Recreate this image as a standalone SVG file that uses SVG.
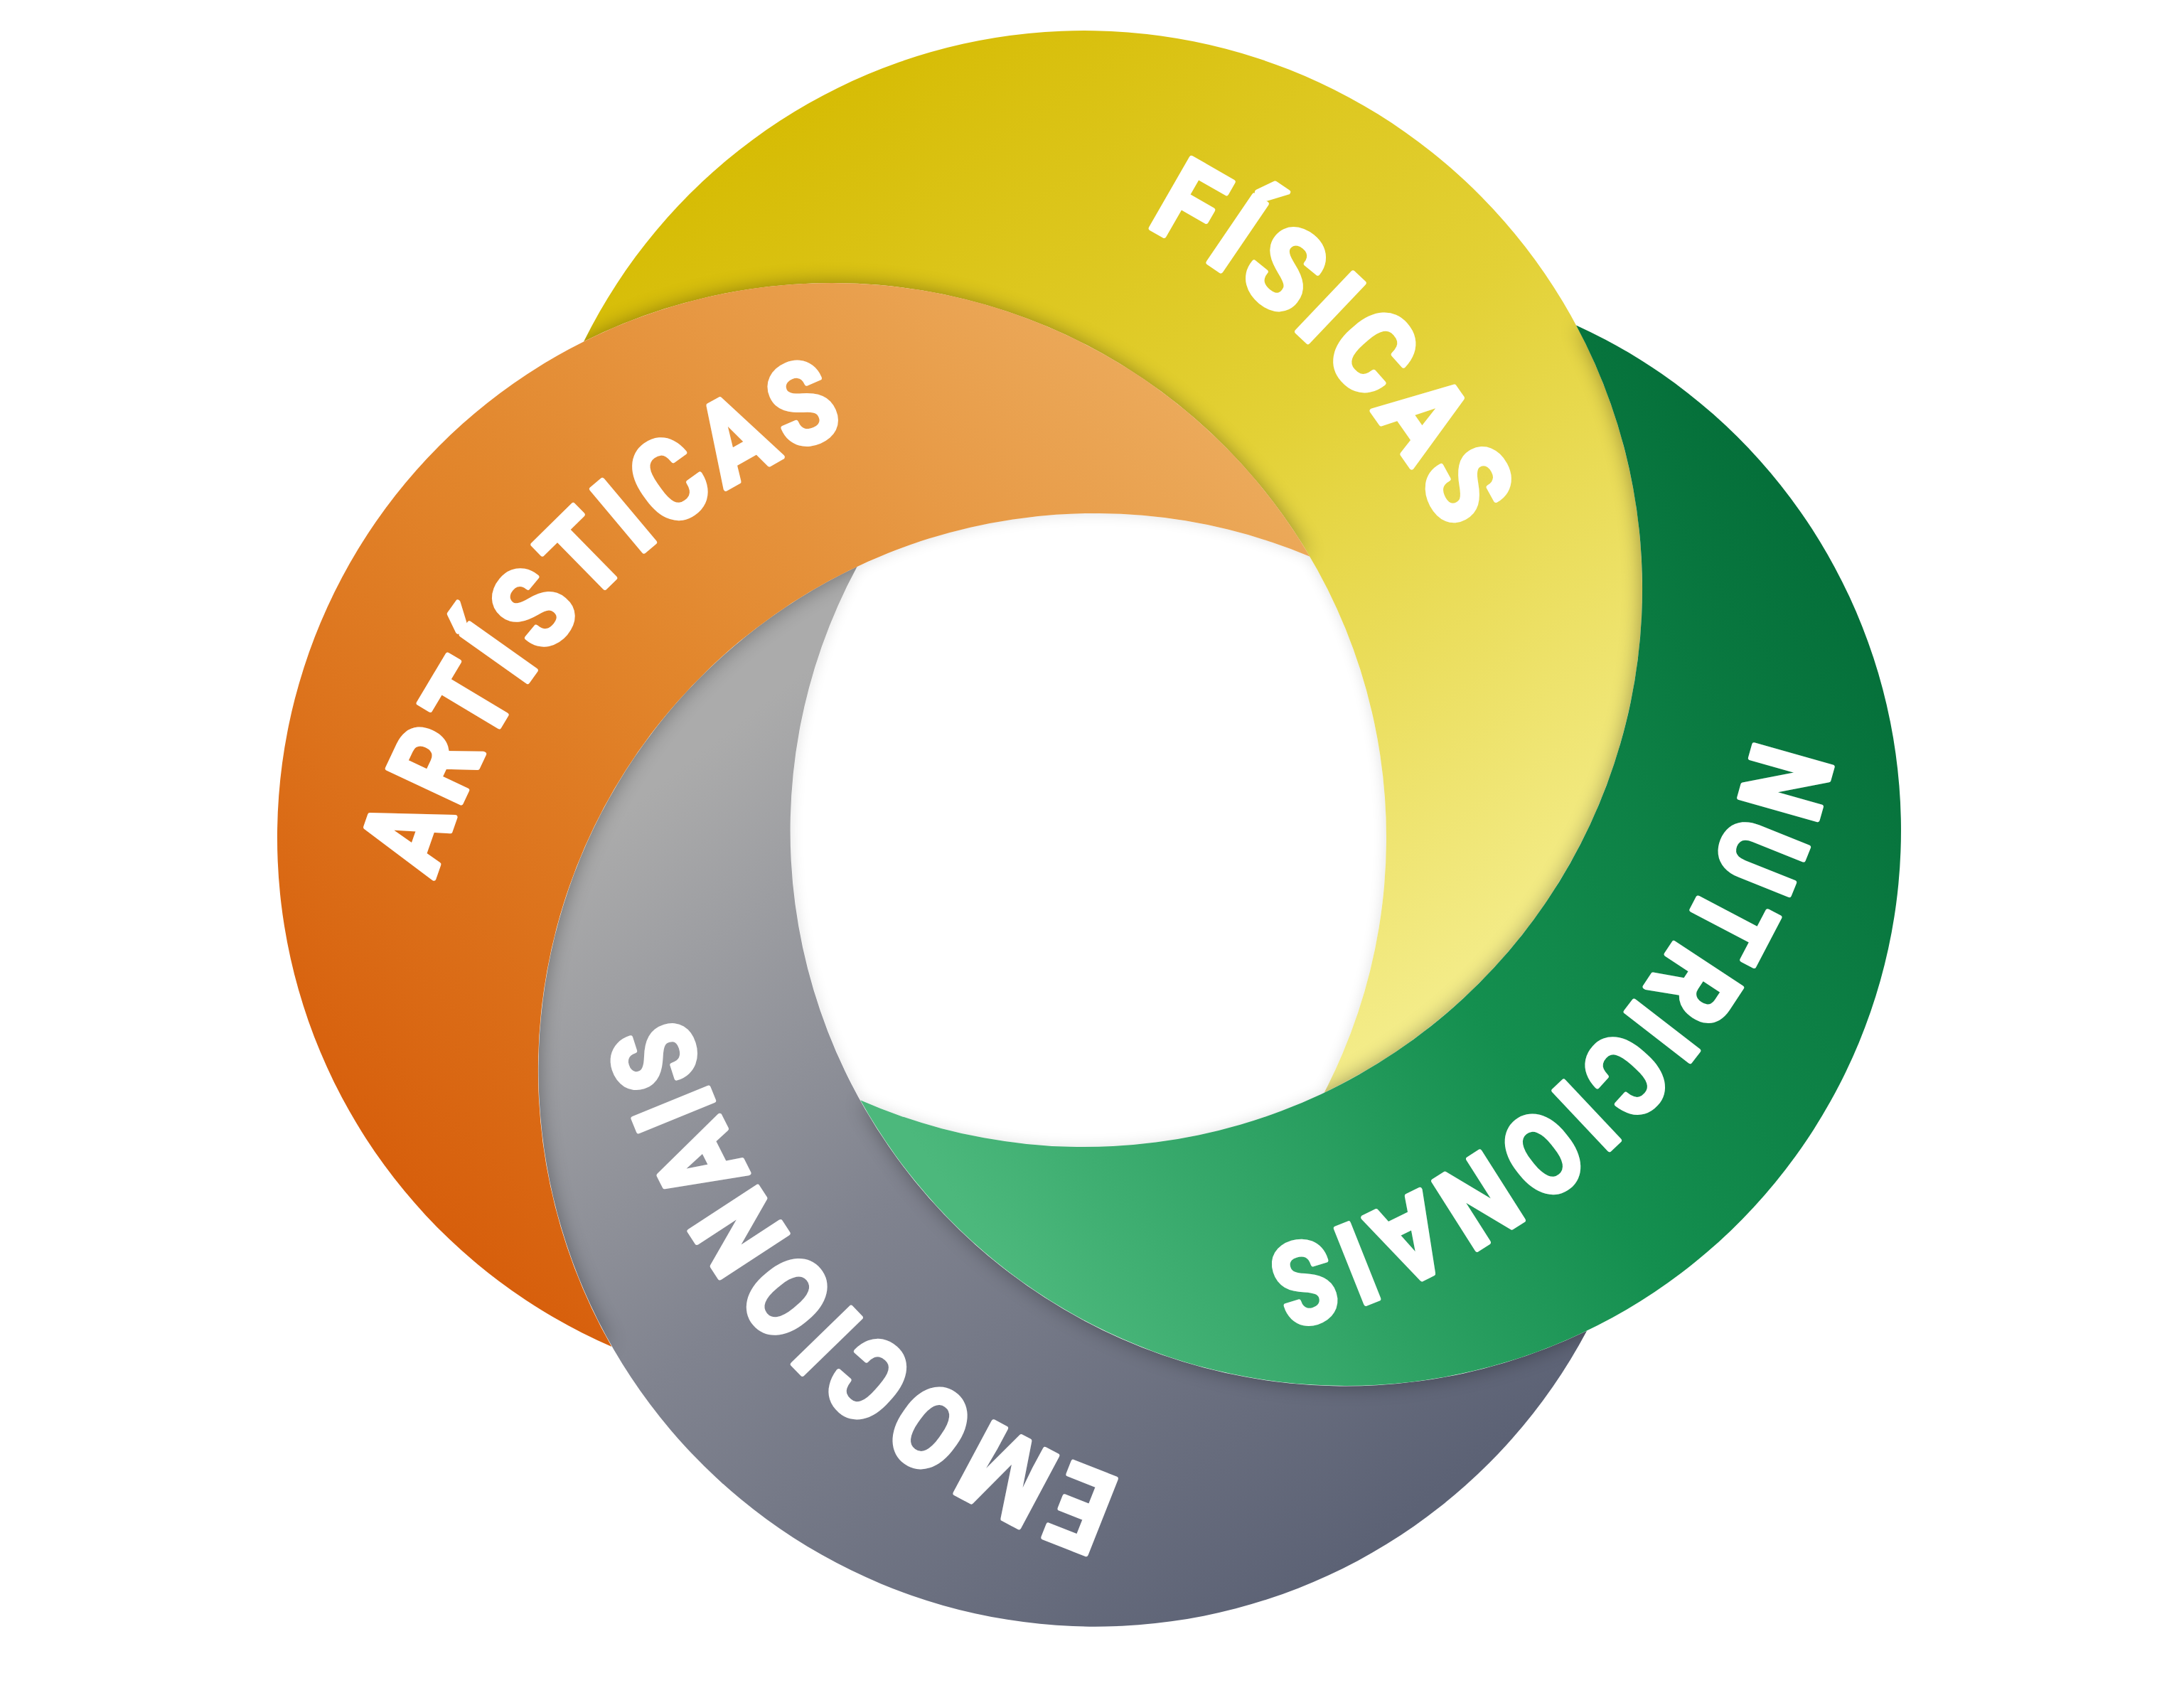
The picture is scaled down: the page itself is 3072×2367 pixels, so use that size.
<svg xmlns="http://www.w3.org/2000/svg" width="3072" height="2367" viewBox="0 0 3072 2367">
<style>
.lbl{font-family:"Roboto","Open Sans","DejaVu Sans",sans-serif;font-weight:700;font-size:160px;letter-spacing:14px;fill:#ffffff;stroke:#ffffff;stroke-width:7px;stroke-linejoin:round}
</style>
<defs>
<linearGradient id="gY" gradientUnits="userSpaceOnUse" x1="1000" y1="150" x2="1950" y2="1500">
<stop offset="0" stop-color="#d5ba00"/><stop offset="0.5" stop-color="#e3d136"/><stop offset="1" stop-color="#f4ed8c"/>
</linearGradient>
<linearGradient id="gO" gradientUnits="userSpaceOnUse" x1="700" y1="1800" x2="1800" y2="650">
<stop offset="0" stop-color="#d75f0c"/><stop offset="0.5" stop-color="#e2862c"/><stop offset="1" stop-color="#ecab5c"/>
</linearGradient>
<linearGradient id="gG" gradientUnits="userSpaceOnUse" x1="2500" y1="700" x2="1250" y2="1550">
<stop offset="0" stop-color="#05703a"/><stop offset="0.5" stop-color="#148f4f"/><stop offset="1" stop-color="#4cb87c"/>
</linearGradient>
<linearGradient id="gB" gradientUnits="userSpaceOnUse" x1="1250" y1="850" x2="2150" y2="2000">
<stop offset="0" stop-color="#ababab"/><stop offset="0.45" stop-color="#80838f"/><stop offset="1" stop-color="#5c6275"/>
</linearGradient>
<filter id="blur" x="-10%" y="-10%" width="120%" height="120%"><feGaussianBlur stdDeviation="14"/></filter>
<filter id="blurS" x="-10%" y="-10%" width="120%" height="120%"><feGaussianBlur stdDeviation="10"/></filter>
<path id="pY" d="M821.2,480.3 A785,785 0 1 1 1862.6,1536.7 A780,780 0 0 0 821.2,480.3 Z"/>
<path id="pG" d="M2217,457.4 A781,781 0 1 1 1210.2,1547.2 A785,785 0 0 0 2217,457.4 Z"/>
<path id="pB" d="M2232,1871.8 A783,783 0 1 1 1205.7,796.8 A781,781 0 0 0 2232,1871.8 Z"/>
<path id="pO" d="M860.4,1893.9 A780,780 0 1 1 1842.4,782.7 A783,783 0 0 0 860.4,1893.9 Z"/>
<clipPath id="underClip"><use href="#pY"/><use href="#pB"/></clipPath>
<clipPath id="c1"><circle cx="1525" cy="828" r="785"/></clipPath>
<clipPath id="c2" clip-path="url(#c1)"><circle cx="1893" cy="1168" r="781"/></clipPath>
<clipPath id="c3" clip-path="url(#c2)"><circle cx="1540" cy="1505" r="783"/></clipPath>
<clipPath id="hole" clip-path="url(#c3)"><circle cx="1170" cy="1178" r="780"/></clipPath>
<path id="tY" d="M1266,215.8 A967,967 0 0 1 2134.3,1105.5"/>
<path id="tG" d="M2489.6,895.5 A967,967 0 0 1 1626.1,1789.7"/>
<path id="tB" d="M1775.2,2127.8 A967,967 0 0 1 927.3,1218.6"/>
<path id="tO" d="M574.2,1457.8 A967,967 0 0 1 1418.8,545.6"/>
</defs>
<rect width="3072" height="2367" fill="#ffffff"/>
<g id="hole-shade" clip-path="url(#hole)">
<g filter="url(#blurS)" opacity="0.12"><use href="#pY"/><use href="#pG"/><use href="#pB"/><use href="#pO"/></g>
</g>
<g id="fisicas">
<use href="#pY" fill="url(#gY)"/>
<text class="lbl"><textPath href="#tY" startOffset="50%" text-anchor="middle" textLength="628" lengthAdjust="spacingAndGlyphs">FÍSICAS</textPath></text>
</g>
<g id="emocionais">
<use href="#pB" fill="url(#gB)"/>
<text class="lbl"><textPath href="#tB" startOffset="50%" text-anchor="middle" textLength="945" lengthAdjust="spacingAndGlyphs">EMOCIONAIS</textPath></text>
</g>
<g id="shadows" clip-path="url(#underClip)">
<g filter="url(#blur)" opacity="0.35"><use href="#pO"/><use href="#pG"/></g>
</g>
<g id="artisticas">
<use href="#pO" fill="url(#gO)"/>
<text class="lbl"><textPath href="#tO" startOffset="50%" text-anchor="middle" textLength="900" lengthAdjust="spacingAndGlyphs">ARTÍSTICAS</textPath></text>
</g>
<g id="nutricionais">
<use href="#pG" fill="url(#gG)"/>
<text class="lbl"><textPath href="#tG" startOffset="50%" text-anchor="middle" textLength="1060" lengthAdjust="spacingAndGlyphs">NUTRICIONAIS</textPath></text>
</g>
<g id="connectors"/>
</svg>
